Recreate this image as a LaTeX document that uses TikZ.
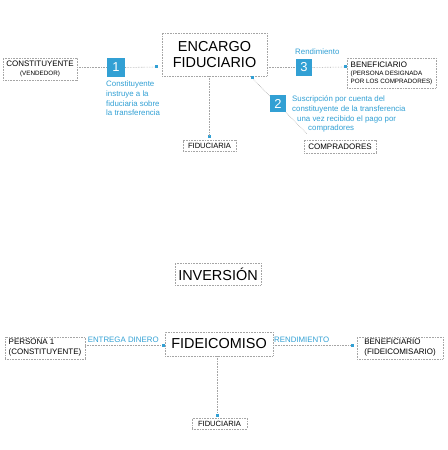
\documentclass[tikz,border=0pt]{standalone}
\usepackage{fontspec}
\setmainfont{Liberation Sans}
\usetikzlibrary{positioning}

\definecolor{azul}{RGB}{50,160,212}
\definecolor{gris}{RGB}{165,165,165}

\newcommand{\grande}{\fontsize{14.5}{17}\selectfont}
\newcommand{\chica}{\fontsize{8}{8.5}\selectfont}
\newcommand{\mini}{\fontsize{6.3}{7.5}\selectfont}

\tikzset{
    caja/.style={draw=gris, densely dotted, line width=0.6pt, inner sep=0pt, align=center},
    numero/.style={fill=azul, text=white, inner sep=0pt, font=\fontsize{13}{13}\selectfont},
    nota/.style={text=azul, inner sep=0pt, align=left, font=\fontsize{7.9}{9.6}\selectfont},
    enlace/.style={draw=gris, densely dotted, line width=0.6pt},
    punto/.style={fill=azul, inner sep=0pt, minimum size=3bp},
}

\begin{document}
\begin{tikzpicture}[x=1bp, y=-1bp]

    \useasboundingbox (0,0) rectangle (448,450);

    % Draw the boxes of the encargo fiduciario
    \node[caja, minimum width=74, minimum height=22, font=\chica] (constituyente) at (40,69) {CONSTITUYENTE\\{\mini(VENDEDOR)}};
    \node[caja, minimum width=105, minimum height=43, font=\grande] (encargo) at (214.5,54.5) {ENCARGO\\FIDUCIARIO};
    \node[caja, minimum width=53, minimum height=11, font=\fontsize{7.6}{8}\selectfont] (fiduciaria) at (209.5,146) {FIDUCIARIA};
    \node[caja, minimum width=72, minimum height=13, font=\chica] (compradores) at (340,146.5) {COMPRADORES};
    \node[caja, minimum width=89, minimum height=30, align=left, font=\fontsize{8}{8}\selectfont] (beneficiario) at (391.5,73) {BENEFICIARIO\\{\mini(PERSONA DESIGNADA}\\{\mini POR LOS COMPRADORES)}};

    % Draw the end points
    \node[punto] (p1) at (156,67) {};
    \node[punto] (p2) at (252,78) {};
    \node[punto] (p3) at (209,137) {};
    \node[punto] (p4) at (345,67) {};

    % Draw the step 2 line under its number
    \draw[enlace] (p2) -- ([shift={(3,-6)}]compradores.north west);

    % Draw the numbered steps
    \node[numero, minimum width=18, minimum height=19] (uno) at (116,67.5) {1};
    \node[numero, minimum width=16, minimum height=17] (dos) at (278,103.5) {2};
    \node[numero, minimum width=17, minimum height=17] (tres) at (304,67.5) {3};

    % Label the steps
    \node[nota, anchor=north west] (nota1) at (106,81) {Constituyente\\instruye a la\\fiduciaria sobre\\la transferencia};
    \node[nota, anchor=north west] (nota2) at (292,96) {Suscripción por cuenta del\\constituyente de la transferencia\\\hspace*{5bp}una vez recibido el pago por\\\hspace*{16bp}compradores};
    \node[nota, anchor=west] (nota3) at (295,52) {Rendimiento};

    % Draw the connectors
    \draw[enlace] (constituyente.east |- uno) -- (uno.west);
    \draw[enlace] (uno.east) -- (p1);
    \draw[enlace] (encargo.east |- tres) -- (tres.west);
    \draw[enlace] (tres.east) -- (p4);
    \draw[enlace] (encargo.south -| p3) -- (p3);

    % Draw the boxes of the inversion
    \node[caja, minimum width=86, minimum height=22, font=\grande] (inversion) at (218,274) {INVERSIÓN};
    \node[caja, minimum width=108, minimum height=24, font=\grande] (fideicomiso) at (219,344) {FIDEICOMISO};
    \node[caja, minimum width=80, minimum height=22, align=left, font=\fontsize{8}{10}\selectfont] (persona) at (45,348) {PERSONA 1\\(CONSTITUYENTE)};
    \node[caja, minimum width=86, minimum height=22, align=left, font=\fontsize{8}{10}\selectfont] (beneficiario2) at (400,348) {BENEFICIARIO\\(FIDEICOMISARIO)};
    \node[caja, minimum width=55, minimum height=11, font=\fontsize{7.6}{8}\selectfont] (fiduciaria2) at (219.5,423.5) {FIDUCIARIA};

    \node[punto] (p5) at (163,345) {};
    \node[punto] (p6) at (352,345) {};
    \node[punto] (p7) at (217,415) {};

    \draw[enlace] (persona.east |- p5) -- node[nota, above=2pt] {ENTREGA DINERO} (p5);
    \draw[enlace] (fideicomiso.east |- p6) -- node[nota, pos=0.37, above=2pt] {RENDIMIENTO} (p6);
    \draw[enlace] (fideicomiso.south -| p7) -- (p7);

\end{tikzpicture}
\end{document}
